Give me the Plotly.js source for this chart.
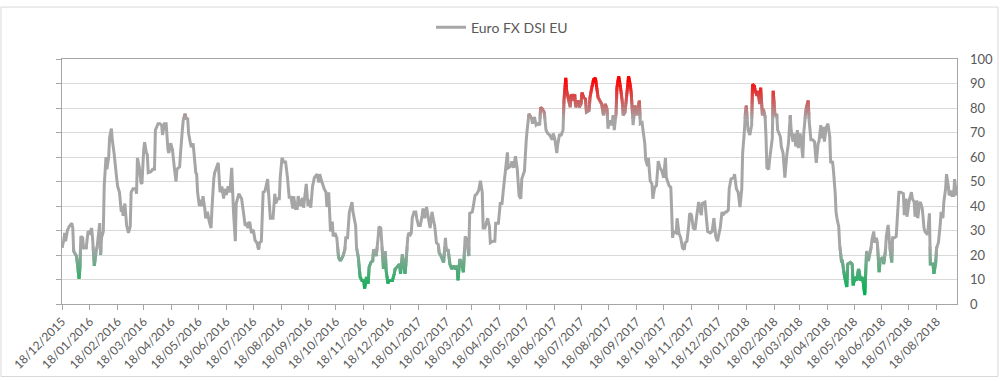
<!DOCTYPE html>
<html>
<head>
<meta charset="utf-8">
<script src="https://cdn.plot.ly/plotly-3.0.1.min.js"></script>
<style>
  html, body { margin: 0; padding: 0; background: #ffffff; }
  #chart { width: 1000px; height: 381px; }
</style>
</head>
<body>
<div id="chart"></div>
<script>
// ---------------- DATA ----------------
const seriesName = 'Euro FX DSI EU';
const startDate = '2015-12-18';           // first observation
// calendar days after startDate for each observation
const dayOffset = [
  0,2,3,4,6,8,11,12,13,16,17,19,20,21,23,24,27,29,31,33,34,36,38,39,42,43,44,46,47,49,
  50,52,53,55,56,58,61,62,64,66,67,68,70,72,74,76,77,79,82,83,84,86,88,89,91,92,94,95,96,99,
  101,103,104,107,109,111,112,114,116,118,119,121,123,125,127,128,131,132,134,135,137,138,140,141,143,144,146,147,149,150,
  151,153,154,156,157,159,160,162,164,166,167,169,170,172,174,176,178,180,181,183,185,187,189,191,193,194,197,198,
  200,202,204,206,207,209,211,213,215,217,219,220,222,224,226,229,230,232,233,235,237,238,240,242,243,245,247,249,251,253,
  255,257,258,260,262,263,266,268,269,272,274,275,277,279,281,284,286,287,289,292,294,295,297,299,301,302,304,306,308,310,
  313,315,316,318,320,323,324,327,328,330,332,334,336,337,339,341,342,344,346,347,350,352,353,355,356,358,360,361,363,364,
  366,368,370,371,373,376,377,379,380,382,383,385,386,388,389,390,392,394,395,397,399,
  401,402,404,406,408,410,412,414,415,417,419,420,422,425,427,428,430,432,434,436,438,440,441,443,445,447,449,451,453,454,
  457,460,462,464,466,468,469,471,474,476,477,480,482,483,486,488,490,492,494,496,497,500,501,503,505,507,509,511,512,515,
  517,518,520,523,524,526,528,530,532,533,535,537,539,541,543,546,547,549,551,552,554,556,558,559,561,562,564,566,567,569,
  571,572,575,576,578,579,581,583,584,587,588,590,592,594,595,597,
  601,603,605,607,608,610,612,614,615,617,618,620,622,624,625,627,629,631,633,634,636,638,640,641,643,644,646,647,649,650,
  652,653,655,657,658,660,662,664,666,668,670,672,673,676,678,680,681,684,685,687,689,691,693,694,696,698,699,701,703,705,
  707,709,710,712,713,716,717,719,722,724,726,728,730,731,733,735,736,739,740,742,743,745,748,749,751,753,755,757,758,760,
  761,762,764,766,768,769,771,772,774,775,777,778,780,781,783,784,785,787,788,791,792,794,796,797,
  800,801,803,805,807,809,811,812,814,816,817,819,820,822,823,825,826,828,829,831,832,834,836,838,839,840,842,843,845,846,
  848,849,851,853,855,856,858,859,861,862,863,865,866,868,869,871,872,874,875,878,880,881,883,885,887,888,889,891,892,894,
  896,898,899,901,902,904,905,907,908,910,911,912,914,915,917,918,920,922,924,925,927,929,930,932,934,937,938,940,941,943,
  944,946,947,949,950,952,953,955,956,958,960,961,964,966,967,970,971,973,974,976,978,979,981,982,984,985,987,988,990,991,
  993,994,996
];
const dsi = [
  23,26,29,25.6,30,31.6,33,31,21.6,19.6,17,10.3,15,27.6,27,23,23,29.6,29,31,27,15.6,21.6,23,33,20,27,29.6,48,60,
  55,60,68,71.6,67,61.6,51,48,45.6,37.6,40,36,41,32,29,31.6,45.6,47,47,45,59.6,56,49.6,49,63,66,61.6,61,53.6,54,
  55,55,71,73.6,73.6,73,69,73.6,73.6,63,61.6,65.6,63,56,50,55,56,61.6,71,75,77.6,76,75.5,69.6,65.6,64,65.6,61.6,53.6,53,
  45.6,40,42.6,40,44,39,35,37.6,33.6,31,39,51,53.6,55.6,57.6,45.6,48,43,47,44.5,48,45.6,55.6,37.6,25.6,41,45,44.3,
  43,37.6,32,32.6,31,33.6,29,30.3,26,25,22.3,25,25.6,45.6,46,51,45.6,35,35,35,45,41,43,43,51.6,59.6,58,58,52,43.6,
  43.6,39,44,39,39,44,40,43.3,39.3,49,40,42.6,39.3,48,51.6,53,49.6,53,50.3,47,45.6,39.6,45.6,29.6,33.6,27.6,29,27,19,17.6,
  19.6,22.3,27,27,37.6,41.6,37.6,32,23,19,11,9.6,9.6,6.3,11,8.3,15,17,17.6,22.3,19.6,27,31.6,31,25.6,14.3,21.6,13.6,8.3,9.6,
  9.6,9.6,12.3,14.3,15,16.3,12.3,20.3,17.6,12.3,16.3,27,29,28.3,29,35,37.6,37.6,35,32,32,
  36,39,35,39.6,35,31,37.6,33.6,32,25,24.3,21,19.6,17,27,21.6,22.3,16.3,14.3,15.6,14.3,15.6,9.6,18.3,17,13,27.6,26.3,19.6,37,
  37.6,44.3,45,46.3,50.3,45.6,31,31,35,31.6,25,25.6,25.6,33,33,41,41,48.3,55,61.9,55.6,56.3,58.3,55.6,60.3,55,44.3,43,51,54.3,
  67,71,77.6,75.6,73.6,76.3,73,73.6,73,80.3,79.6,78.3,71,69.6,69,67,69.6,67,61.6,65,69,69,71,83,92.3,87,83.6,80.3,85.6,83,
  85.6,80.3,83,80.3,81.6,86.3,84.3,83.6,78.3,79,84.3,88.3,91.6,92.3,89.6,84.3,
  81.6,77,81.6,79.6,71.6,75,73,77,71,77.6,88.3,93,88.3,82.3,77,78.3,85.6,93,89,85.6,73,81,77,79,83,73.6,74,71,65.6,59,
  56.3,59.6,50.3,49,43,47.6,48.3,58.3,55.6,54.3,51.6,59.6,51.6,48.3,47.6,27,29.6,29,35,29,27,23,22.3,25,25.6,32.3,37,36.3,31,30.3,
  36.4,41.6,39,36.3,41,41.6,37.6,29.6,29,29.6,35,27.6,25.6,27.6,31,37.6,36.3,37.6,37.6,38.3,47,51,51.6,53,47,45.6,39.6,47,61.6,71,
  77.6,81,71,69,73,89.6,89,87,85,87,81.6,88.3,77,79.6,76.3,68.3,55.6,55,59,67.6,87,77,77,71,
  68.3,64.3,61.6,51.6,60.3,65.6,77,71,66.3,69.6,64.3,71,63.6,69.6,67,59.6,69.6,77.6,80.3,83,75,67,67,66.3,61.6,57.6,65.6,66.3,73,67.6,
  72.3,66.3,72,73.6,68.3,57.6,58.3,55,45.6,37.6,35,31.6,24.3,17.6,17.6,12.3,10.3,7,16.3,17,16.3,7.6,11,9.6,14.3,13,9.6,11,9.6,3.6,
  21.6,17.6,19.6,23,26.3,29.6,25,27,25,13,17.6,18.3,19,16.3,21.6,27.6,32.3,23,17,27,27,27.6,33.6,45.6,45.6,45,36.3,43,35.6,41,
  43,45.6,43,41.6,35.6,42.3,35,41,41.6,39,31,29.6,28.3,37,16.3,16.3,12.3,17,23,25,32.3,37.6,35,41.6,47,53,48.3,44.3,46.3,44.3,
  44.3,51,44.3
];
const tickLabels = [
  '18/12/2015','18/01/2016','18/02/2016','18/03/2016','18/04/2016','18/05/2016','18/06/2016','18/07/2016',
  '18/08/2016','18/09/2016','18/10/2016','18/11/2016','18/12/2016','18/01/2017','18/02/2017','18/03/2017',
  '18/04/2017','18/05/2017','18/06/2017','18/07/2017','18/08/2017','18/09/2017','18/10/2017','18/11/2017',
  '18/12/2017','18/01/2018','18/02/2018','18/03/2018','18/04/2018','18/05/2018','18/06/2018','18/07/2018',
  '18/08/2018'
];
const axisEndOffset = 996.7;   // last day shown on the axis

// ---------------- STYLE ----------------
const GREEN = [0, 176, 80], GREY = [166, 166, 166], RED = [255, 0, 0];
const greenFull = 5, greyLow = 23, greyHigh = 76, redFull = 92;
const FONT = 'Lato, "Open Sans", "Liberation Sans", sans-serif';
const TXT = '#595959';
const AXIS = '#a6a6a6';

function mix(a, b, t) {
  return 'rgb(' + a.map((v, i) => Math.round(v + (b[i] - v) * t)).join(',') + ')';
}
function colorAt(v) {
  if (v <= greenFull) return mix(GREEN, GREEN, 0);
  if (v < greyLow) return mix(GREEN, GREY, (v - greenFull) / (greyLow - greenFull));
  if (v <= greyHigh) return mix(GREY, GREY, 0);
  if (v < redFull) return mix(GREY, RED, (v - greyHigh) / (redFull - greyHigh));
  return mix(RED, RED, 0);
}

const base = Date.UTC(2015, 11, 18);
function offsetToDate(off) {
  return new Date(base + off * 86400000).toISOString().replace('T', ' ').slice(0, 19);
}
const dates = dayOffset.map(offsetToDate);
const tickVals = tickLabels.map(s => { const p = s.split('/'); return p[2] + '-' + p[1] + '-' + p[0]; });

// colour bands (value ranges); the same line is drawn in each band subplot, clipped to it,
// which reproduces the vertical colour gradient of the original line.
const bands = [[0, greenFull]];
for (let v = greenFull; v < greyLow; v++) bands.push([v, v + 1]);
bands.push([greyLow, greyHigh]);
for (let v = greyHigh; v < redFull; v++) bands.push([v, v + 1]);
bands.push([redFull, 100]);

const LABEL_AXIS = 'y' + (bands.length + 2);

const traces = [
  { x: [dates[0]], y: [null], xaxis: 'x', yaxis: 'y', type: 'scatter', mode: 'lines',
    showlegend: false, hoverinfo: 'skip' },
  { x: [dates[0]], y: [null], xaxis: 'x', yaxis: LABEL_AXIS, type: 'scatter', mode: 'lines',
    showlegend: false, hoverinfo: 'skip' }
];
const layout = {
  width: 1000, height: 381,
  margin: { l: 62, r: 43, t: 54, b: 77, pad: 0 },
  paper_bgcolor: '#ffffff', plot_bgcolor: 'rgba(0,0,0,0)',
  font: { family: FONT, color: TXT, size: 12 },
  showlegend: true,
  legend: {
    orientation: 'h', x: 0.4916, xanchor: 'center', y: 1.128, yanchor: 'middle',
    font: { family: FONT, size: 14, color: TXT }, bgcolor: 'rgba(0,0,0,0)'
  },
  xaxis: {
    type: 'date', anchor: 'y',
    range: [offsetToDate(0), offsetToDate(axisEndOffset)],
    tickmode: 'array', tickvals: tickVals, ticktext: tickLabels, tickangle: -45,
    ticks: 'outside', ticklen: 5, tickcolor: AXIS, tickwidth: 1,
    showline: true, linecolor: AXIS, linewidth: 1, mirror: true,
    showgrid: false, zeroline: false, fixedrange: true,
    tickfont: { family: FONT, size: 12, color: TXT }
  },
  // left axis: tick marks only, gridlines
  yaxis: {
    anchor: 'x', side: 'left', domain: [0, 1], range: [0, 100],
    tickmode: 'linear', tick0: 0, dtick: 10,
    ticks: 'outside', ticklen: 5, tickcolor: AXIS, showticklabels: false,
    showline: true, linecolor: AXIS, linewidth: 1, mirror: true,
    showgrid: true, gridcolor: '#d9d9d9', gridwidth: 1, zeroline: false, fixedrange: true
  },
  shapes: [{
    type: 'rect', xref: 'paper', yref: 'paper',
    x0: -0.0682, x1: 1.0458, y0: -0.296, y1: 1.212,
    line: { color: '#d9d9d9', width: 1 }, fillcolor: 'rgba(0,0,0,0)', layer: 'below'
  }]
};
// right axis: labels only
layout['yaxis' + (bands.length + 2)] = {
  overlaying: 'y', side: 'right', anchor: 'x', range: [0, 100],
  tickmode: 'linear', tick0: 0, dtick: 10, ticks: '', ticklabelstandoff: 12,
  showline: false, showgrid: false, zeroline: false, fixedrange: true,
  tickfont: { family: FONT, size: 13, color: TXT }
};

const pad = 0.004;
bands.forEach((b, i) => {
  const n = i + 2;
  const d0 = Math.max(0, b[0] / 100 - pad), d1 = Math.min(1, b[1] / 100 + pad);
  layout['yaxis' + n] = {
    anchor: 'x', domain: [d0, d1], range: [d0 * 100, d1 * 100],
    visible: false, fixedrange: true, showgrid: false, zeroline: false
  };
  const isLegend = (b[0] === greyLow);
  traces.push({
    type: 'scatter', mode: 'lines', x: dates, y: dsi,
    xaxis: 'x', yaxis: 'y' + n,
    name: seriesName, showlegend: isLegend, hoverinfo: 'skip',
    line: { color: colorAt((b[0] + b[1]) / 2), width: 3, simplify: false }
  });
});

Plotly.newPlot('chart', traces, layout, { staticPlot: true, displayModeBar: false });
</script>
</body>
</html>
